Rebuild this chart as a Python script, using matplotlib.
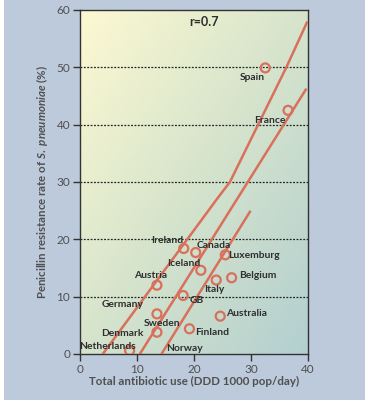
import numpy as np
import matplotlib
matplotlib.use("Agg")
import matplotlib.pyplot as plt
from matplotlib.patches import Rectangle

# ===== DATA =====
countries = ["Spain", "France", "Ireland", "Canada", "Luxemburg", "Iceland", "Italy",
             "Belgium", "Austria", "GB", "Germany", "Australia", "Sweden", "Finland", "Netherlands"]
use = [32.5, 36.5, 18.2, 20.3, 25.5, 21.2, 23.9, 26.6, 13.5, 18.1, 13.5, 24.6, 13.5, 19.2, 8.7]
resist = [49.9, 42.5, 18.4, 17.7, 17.3, 14.6, 12.9, 13.3, 12.0, 10.2, 7.0, 6.6, 3.8, 4.4, 0.6]

# labels (text positions)
label_names = ["Spain", "France", "Ireland", "Canada", "Luxemburg", "Iceland", "Austria", "Belgium",
               "Italy", "GB", "Germany", "Australia", "Sweden", "Denmark", "Finland", "Netherlands", "Norway"]
label_x = [30.3, 33.3, 15.3, 23.5, 30.6, 18.2, 12.4, 31.2, 23.5, 20.4, 7.4, 29.2, 14.4, 7.5, 23.1, 4.9, 18.4]
label_y = [48.2, 40.8, 19.8, 19.0, 17.2, 15.8, 13.7, 13.7, 11.2, 9.25, 8.6, 7.0, 5.3, 3.6, 3.8, 1.3, 1.0]

# three trend / band lines
band_upper_x = [4.0, 24.0, 26.3, 36.2, 39.8]
band_upper_y = [0.0, 27.0, 30.0, 50.0, 57.8]
fit_x = [10.5, 39.6]
fit_y = [0.0, 46.1]
band_lower_x = [14.3, 29.8]
band_lower_y = [0.0, 24.8]

xticks = [0, 10, 20, 30, 40]
yticks = [0, 10, 20, 30, 40, 50, 60]

# ===== STYLE =====
plt.rcParams["font.family"] = ["Lato", "DejaVu Sans"]
plt.rcParams["mathtext.fontset"] = "custom"
plt.rcParams["mathtext.it"] = "Lato:italic:bold"
plt.rcParams["mathtext.rm"] = "Lato:bold"

red = "#d8705c"
grey = "#505050"
label_col = "#2e2e2e"
panel = "#bccadc"

fig = plt.figure(figsize=(3.69, 4.03), dpi=100)
fig.patch.set_facecolor("white")
fig.patches.append(Rectangle((4 / 369, 3 / 403), 361 / 369, 400 / 403, transform=fig.transFigure,
                             facecolor=panel, edgecolor="none", zorder=-10))

ax = fig.add_axes([80 / 369, 49 / 403, 228 / 369, 344 / 403])
ax.set_xlim(0, 40)
ax.set_ylim(0, 60)

# diagonal gradient background: pale yellow top-left -> light teal bottom-right
gx, gy = np.meshgrid(np.linspace(0, 1, 200), np.linspace(1, 0, 200))
t = np.clip(0.5 * gx + 0.5 * (1 - gy), 0, 1)[..., None]
c0 = np.array([253, 249, 210]) / 255.0
c1 = np.array([214, 228, 204]) / 255.0
c2 = np.array([178, 207, 208]) / 255.0
img = np.where(t < 0.5, c0 + (c1 - c0) * (t / 0.5), c1 + (c2 - c1) * ((t - 0.5) / 0.5))
ax.imshow(img, extent=[0, 40, 0, 60], aspect="auto", zorder=0)

for yv in [10, 20, 30, 40, 50]:
    ax.axhline(yv, color="#222222", lw=0.9, ls=(0, (1.5, 1.2)), zorder=1)

ax.plot(band_upper_x, band_upper_y, color=red, lw=1.8, zorder=3)
ax.plot(fit_x, fit_y, color=red, lw=1.8, zorder=3)
ax.plot(band_lower_x, band_lower_y, color=red, lw=1.8, zorder=3)

ax.scatter(use, resist, s=42, facecolors="none", edgecolors=red, linewidths=1.6, zorder=4)

for name, lx, ly in zip(label_names, label_x, label_y):
    ax.text(lx, ly, name, ha="center", va="center", fontsize=7.4, fontweight="bold",
            color=label_col, zorder=5)

ax.text(21.7, 57.9, "r=0.7", ha="center", va="center", fontsize=9, fontweight="bold",
        color=label_col, zorder=5)

ax.set_xticks(xticks)
ax.set_yticks(yticks)
ax.tick_params(direction="out", length=5, width=1, color="#333333", labelsize=8.5,
               labelcolor=grey, pad=2)
for s in ax.spines.values():
    s.set_color("#333333")
    s.set_linewidth(1)

ax.set_xlabel("Total antibiotic use (DDD 1000 pop/day)", fontsize=8.3, fontweight="bold",
              color=grey, labelpad=1)
ax.set_ylabel(r"Penicillin resistance rate of $S.\ pneumoniae$ (%)", fontsize=8.3,
              fontweight="bold", color=grey, labelpad=5)

fig.savefig("out.png", dpi=100)
